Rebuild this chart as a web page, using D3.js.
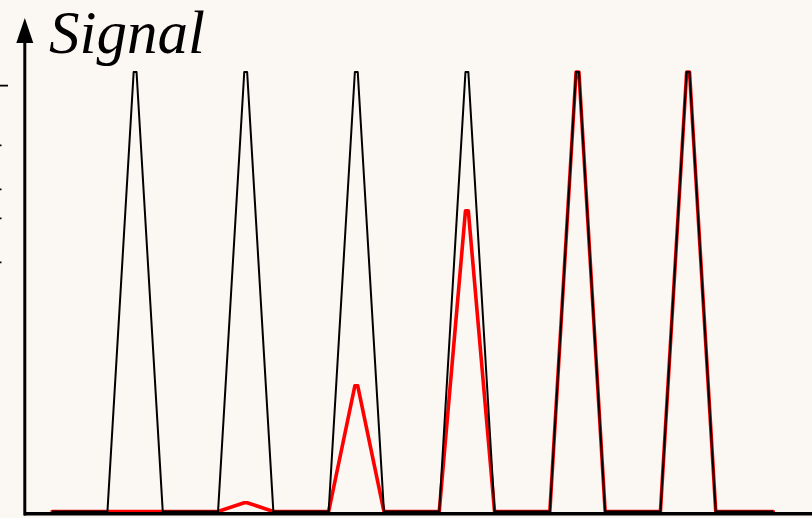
<!DOCTYPE html>
<html>
<head>
<meta charset="utf-8">
<script src="https://cdn.jsdelivr.net/npm/d3@7"></script>
<style>
  html, body { margin: 0; padding: 0; background: #fbf8f3; }
  svg { display: block; }
</style>
</head>
<body>
<svg id="chart" width="812" height="518"></svg>
<script>
// Pulse train: six triangular pulses, reference (black) and response (red)
const pulseCenters = [1, 2, 3, 4, 5, 6];
const referenceHeights = [1, 1, 1, 1, 1, 1];
const responseHeights = [0, 0.02, 0.286, 0.684, 1, 1];
const pulseHalfWidth = 0.25;   // half of the pulse base, in time units
const pulseTopHalf = 0.013;    // half of the small flat top
const timeStart = 0.25;
const timeEnd = 6.77;
const yTickValues = [0.969, 0.833, 0.733, 0.667, 0.567];
const yTickLengths = [8, 1.5, 1.5, 1.5, 1.5];
const axisTitle = "Signal";

const svg = d3.select("#chart");
const W = 812, H = 518;

const x = d3.scaleLinear().domain([0, 7]).range([24.5, 24.5 + 7 * 110.6]);
const y = d3.scaleLinear().domain([0, 1]).range([511.5, 72]);

function pulseTrain(heights) {
  const pts = [[timeStart, 0]];
  pulseCenters.forEach((c, i) => {
    pts.push([c - pulseHalfWidth, 0]);
    pts.push([c - pulseTopHalf, heights[i]]);
    pts.push([c + pulseTopHalf, heights[i]]);
    pts.push([c + pulseHalfWidth, 0]);
  });
  pts.push([timeEnd, 0]);
  return pts;
}

const line = d3.line().x(d => x(d[0])).y(d => y(d[1]));

svg.append("rect").attr("width", W).attr("height", H).attr("fill", "#fbf8f3");

// response first so the reference outline sits on top
svg.append("path")
  .datum(pulseTrain(responseHeights))
  .attr("d", line)
  .attr("fill", "none")
  .attr("stroke", "#ff0000")
  .attr("stroke-width", 3.6)
  .attr("stroke-linejoin", "round")
  .attr("stroke-linecap", "round");

svg.append("path")
  .datum(pulseTrain(referenceHeights))
  .attr("d", line)
  .attr("fill", "none")
  .attr("stroke", "#000")
  .attr("stroke-width", 2)
  .attr("stroke-linejoin", "round");

// horizontal axis
svg.append("line")
  .attr("x1", 24).attr("x2", W)
  .attr("y1", 513.8).attr("y2", 513.8)
  .attr("stroke", "#000").attr("stroke-width", 3.6);

// vertical axis with arrow head
const axisX = 24.8;
svg.append("line")
  .attr("x1", axisX).attr("x2", axisX)
  .attr("y1", 515.5).attr("y2", 38)
  .attr("stroke", "#000").attr("stroke-width", 3);
svg.append("path")
  .attr("d", `M${axisX},18 L${axisX - 8.5},43 L${axisX + 8.5},43 Z`)
  .attr("fill", "#000");

// ticks to the left of the vertical axis
svg.selectAll("line.ytick")
  .data(yTickValues)
  .join("line")
  .attr("class", "ytick")
  .attr("x1", 0)
  .attr("x2", (d, i) => yTickLengths[i])
  .attr("y1", d => y(d)).attr("y2", d => y(d))
  .attr("stroke", "#000").attr("stroke-width", 1.8);

svg.append("text")
  .attr("x", 49).attr("y", 53)
  .attr("font-family", "'Liberation Serif', 'DejaVu Serif', serif")
  .attr("font-style", "italic")
  .attr("font-size", 61)
  .attr("fill", "#000")
  .text(axisTitle);
</script>
</body>
</html>
